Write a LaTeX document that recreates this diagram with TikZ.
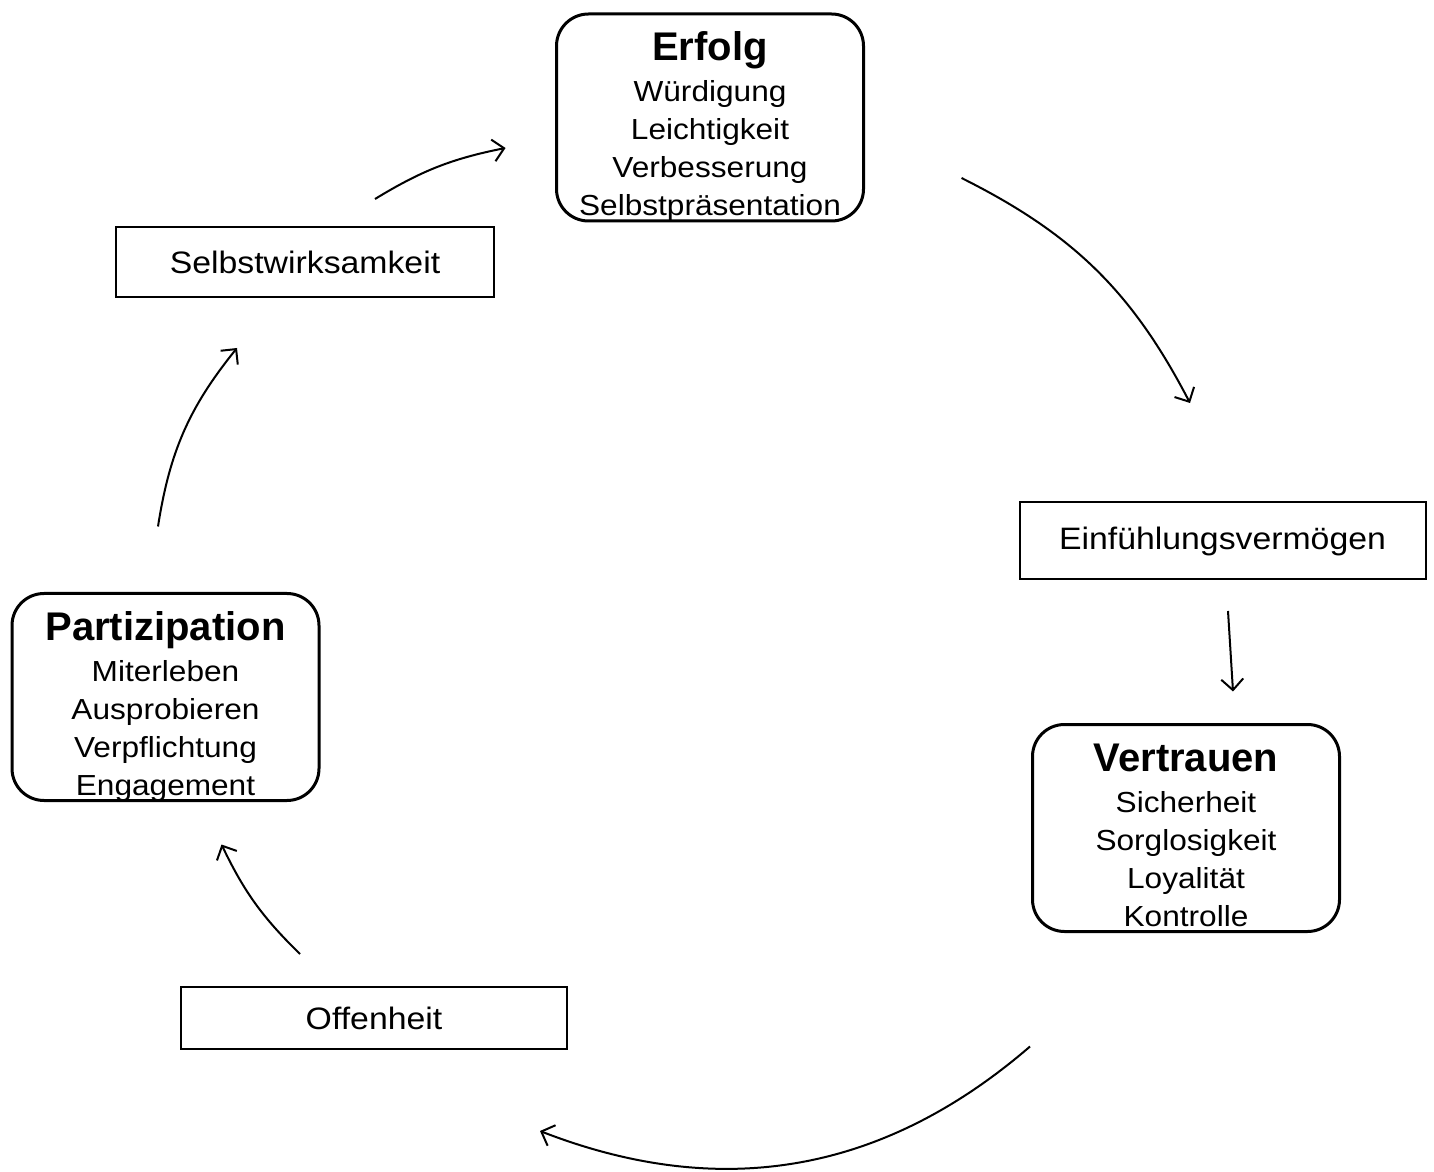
\documentclass[tikz,border=0pt]{standalone}
\usepackage{fontspec}
\usepackage{tikz}
\usetikzlibrary{arrows.meta, positioning}
\newfontfamily\itemfont{Liberation Sans}[FakeStretch=1.09]
\newfontfamily\headfont{Liberation Sans}
\newcommand\phasetitle[1]{{\headfont\bfseries\fontsize{40}{40}\selectfont #1}\\[3pt]}
\tikzset{
  >={Straight Barb[length=11pt,width=22pt]},
  phase/.style={draw, line width=3pt, rounded corners=32pt,
    minimum width=307pt, minimum height=207pt, align=center,
    font=\itemfont\fontsize{29}{38}\selectfont,
    text height=197pt, text depth=1pt},
  trait/.style={draw, line width=2pt,
    font=\itemfont\fontsize{31}{36}\selectfont},
  flow/.style={->, line width=2pt}
}

\begin{document}
\begin{tikzpicture}[x=1pt, y=1pt]
    \useasboundingbox (0,0) rectangle (1434,1171);

    \node[phase] (erfolg) at (710,1053.5)
      {\phasetitle{Erfolg}W\"urdigung\\Leichtigkeit\\Verbesserung\\Selbstpr\"asentation};
    \node[trait, minimum width=378pt, minimum height=70pt] (selbst) at (305,909) {Selbstwirksamkeit};
    \node[trait, minimum width=406pt, minimum height=77pt] (einf) at (1222.5,630) {Einf\"uhlungsverm\"ogen};
    \node[phase] (vertrauen) at (1186,343)
      {\phasetitle{Vertrauen}Sicherheit\\Sorglosigkeit\\Loyalit\"at\\Kontrolle};
    \node[trait, minimum width=386pt, minimum height=62pt] (offen) at (374,153) {Offenheit};
    \node[phase] (partiz) at (165.5,474)
      {\phasetitle{Partizipation}Miterleben\\Ausprobieren\\Verpflichtung\\Engagement};

    \draw[flow] ([shift={(96.5,-60.5)}]erfolg.east) to[bend left=18] ([shift={(-32.5,98.5)}]einf.north);
    \draw[flow] ([shift={(5.5,-30.5)}]einf.south) -- ([shift={(47,31.5)}]vertrauen.north);
    \draw[flow] ([shift={(-156,-113.5)}]vertrauen.south) to[bend left=31] ([shift={(166,-81)}]offen.south);
    \draw[flow] ([shift={(-74,32)}]offen.north) to[bend left=10] ([shift={(56,-42.5)}]partiz.south);
    \draw[flow] ([shift={(-7.5,65.5)}]partiz.north) to[bend left=15] ([shift={(-68,-50)}]selbst.south);
    \draw[flow] ([shift={(70,27)}]selbst.north) to[bend left=10] ([shift={(-49.5,-30.5)}]erfolg.west);
\end{tikzpicture}
\end{document}
